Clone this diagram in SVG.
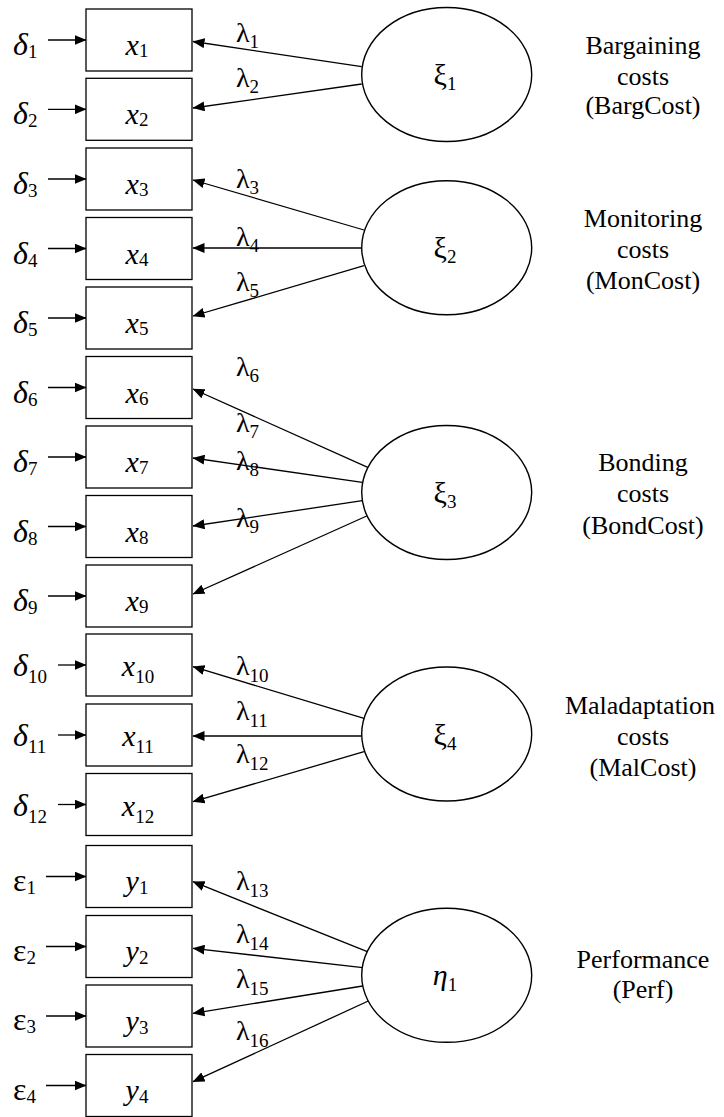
<svg xmlns="http://www.w3.org/2000/svg" width="724" height="1117" viewBox="0 0 724 1117">
<defs>
<marker id="ah" markerUnits="userSpaceOnUse" markerWidth="12" markerHeight="10" refX="11.5" refY="5" orient="auto">
<path d="M0,0 L12,5 L0,10 Z" fill="#000"/>
</marker>
<style>
.box{fill:#fff;stroke:#000;stroke-width:1.3}
.ell{fill:#fff;stroke:#000;stroke-width:1.4}
.ln{stroke:#000;stroke-width:1.3;fill:none;marker-end:url(#ah)}
.v{font-family:"Liberation Serif","Times New Roman",serif;font-style:italic;font-size:30px;fill:#000}
.d{font-family:"Liberation Serif","Times New Roman",serif;font-style:italic;font-size:32px;fill:#000}
.e{font-family:"Liberation Serif","Times New Roman",serif;font-size:32px;fill:#000}
.l{font-family:"Liberation Serif","Times New Roman",serif;font-size:28px;fill:#000}
.k{font-family:"Liberation Serif","Times New Roman",serif;font-size:30px;fill:#000;text-anchor:middle}
.s{font-style:normal;font-size:19px}
.lab{font-family:"Liberation Serif","Times New Roman",serif;font-size:26px;fill:#000;text-anchor:middle}
</style>
</defs>
<rect width="724" height="1117" fill="#fff"/>

<g id="connectors">
<line class="ln" x1="48" y1="40" x2="86" y2="40"/>
<line class="ln" x1="48" y1="109.3" x2="86" y2="109.3"/>
<line class="ln" x1="48" y1="179" x2="86" y2="179"/>
<line class="ln" x1="48" y1="248.5" x2="86" y2="248.5"/>
<line class="ln" x1="48" y1="318" x2="86" y2="318"/>
<line class="ln" x1="48" y1="387.5" x2="86" y2="387.5"/>
<line class="ln" x1="48" y1="457" x2="86" y2="457"/>
<line class="ln" x1="48" y1="526.5" x2="86" y2="526.5"/>
<line class="ln" x1="48" y1="596" x2="86" y2="596"/>
<line class="ln" x1="58" y1="665" x2="86" y2="665"/>
<line class="ln" x1="58" y1="735" x2="86" y2="735"/>
<line class="ln" x1="58" y1="804.5" x2="86" y2="804.5"/>
<line class="ln" x1="46" y1="876.5" x2="86" y2="876.5"/>
<line class="ln" x1="46" y1="946.5" x2="86" y2="946.5"/>
<line class="ln" x1="46" y1="1016" x2="86" y2="1016"/>
<line class="ln" x1="46" y1="1085.5" x2="86" y2="1085.5"/>

<line class="ln" x1="361.7" y1="66.7" x2="193" y2="41.5"/>
<line class="ln" x1="361.7" y1="84" x2="193" y2="108"/>
<line class="ln" x1="364" y1="230" x2="193" y2="180"/>
<line class="ln" x1="361.7" y1="248" x2="193" y2="248"/>
<line class="ln" x1="364" y1="265.7" x2="193" y2="316"/>
<line class="ln" x1="368.3" y1="467.7" x2="193" y2="389"/>
<line class="ln" x1="362.3" y1="482.3" x2="193" y2="458"/>
<line class="ln" x1="362.3" y1="500.7" x2="193" y2="526"/>
<line class="ln" x1="366.7" y1="516" x2="193" y2="594"/>
<line class="ln" x1="364" y1="718.3" x2="193" y2="666.7"/>
<line class="ln" x1="361.7" y1="736" x2="193" y2="736"/>
<line class="ln" x1="364" y1="751.7" x2="193" y2="801.7"/>
<line class="ln" x1="367.3" y1="951.7" x2="193" y2="881.7"/>
<line class="ln" x1="362.7" y1="967.7" x2="193" y2="948.3"/>
<line class="ln" x1="362.7" y1="986" x2="193" y2="1013.3"/>
<line class="ln" x1="368.3" y1="1001" x2="193" y2="1081.7"/>
</g>

<g id="error-labels">
<text class="d" x="13" y="55">δ<tspan class="s" dy="3">1</tspan></text>
<text class="d" x="13" y="124.3">δ<tspan class="s" dy="3">2</tspan></text>
<text class="d" x="13" y="194">δ<tspan class="s" dy="3">3</tspan></text>
<text class="d" x="13" y="263.5">δ<tspan class="s" dy="3">4</tspan></text>
<text class="d" x="13" y="333">δ<tspan class="s" dy="3">5</tspan></text>
<text class="d" x="13" y="402.5">δ<tspan class="s" dy="3">6</tspan></text>
<text class="d" x="13" y="472">δ<tspan class="s" dy="3">7</tspan></text>
<text class="d" x="13" y="541.5">δ<tspan class="s" dy="3">8</tspan></text>
<text class="d" x="13" y="611">δ<tspan class="s" dy="3">9</tspan></text>
<text class="d" x="13" y="676">δ<tspan class="s" dy="7">10</tspan></text>
<text class="d" x="13" y="746">δ<tspan class="s" dy="7">11</tspan></text>
<text class="d" x="13" y="815.5">δ<tspan class="s" dy="7">12</tspan></text>
<text class="e" x="13" y="890.5">ε<tspan class="s" dy="3">1</tspan></text>
<text class="e" x="13" y="960.5">ε<tspan class="s" dy="3">2</tspan></text>
<text class="e" x="13" y="1030">ε<tspan class="s" dy="3">3</tspan></text>
<text class="e" x="13" y="1099.5">ε<tspan class="s" dy="3">4</tspan></text>
</g>

<g id="x1"><rect class="box" x="86" y="9" width="106" height="62"/><text class="v" x="137" y="55" text-anchor="middle">x<tspan class="s" dy="2">1</tspan></text></g>
<g id="x2"><rect class="box" x="86" y="78.3" width="106" height="62"/><text class="v" x="137" y="124.3" text-anchor="middle">x<tspan class="s" dy="2">2</tspan></text></g>
<g id="x3"><rect class="box" x="86" y="148" width="106" height="62"/><text class="v" x="137" y="194" text-anchor="middle">x<tspan class="s" dy="2">3</tspan></text></g>
<g id="x4"><rect class="box" x="86" y="217.5" width="106" height="62"/><text class="v" x="137" y="263.5" text-anchor="middle">x<tspan class="s" dy="2">4</tspan></text></g>
<g id="x5"><rect class="box" x="86" y="287" width="106" height="62"/><text class="v" x="137" y="333" text-anchor="middle">x<tspan class="s" dy="2">5</tspan></text></g>
<g id="x6"><rect class="box" x="86" y="356.5" width="106" height="62"/><text class="v" x="137" y="402.5" text-anchor="middle">x<tspan class="s" dy="2">6</tspan></text></g>
<g id="x7"><rect class="box" x="86" y="426" width="106" height="62"/><text class="v" x="137" y="472" text-anchor="middle">x<tspan class="s" dy="2">7</tspan></text></g>
<g id="x8"><rect class="box" x="86" y="495.5" width="106" height="62"/><text class="v" x="137" y="541.5" text-anchor="middle">x<tspan class="s" dy="2">8</tspan></text></g>
<g id="x9"><rect class="box" x="86" y="565" width="106" height="62"/><text class="v" x="137" y="611" text-anchor="middle">x<tspan class="s" dy="2">9</tspan></text></g>
<g id="x10"><rect class="box" x="86" y="634" width="106" height="62"/><text class="v" x="138" y="676" text-anchor="middle">x<tspan class="s" dy="7">10</tspan></text></g>
<g id="x11"><rect class="box" x="86" y="704" width="106" height="62"/><text class="v" x="138" y="746" text-anchor="middle">x<tspan class="s" dy="7">11</tspan></text></g>
<g id="x12"><rect class="box" x="86" y="773.5" width="106" height="62"/><text class="v" x="138" y="815.5" text-anchor="middle">x<tspan class="s" dy="7">12</tspan></text></g>
<g id="y1"><rect class="box" x="86" y="845.5" width="106" height="62"/><text class="v" x="137" y="891" text-anchor="middle">y<tspan class="s" dy="3">1</tspan></text></g>
<g id="y2"><rect class="box" x="86" y="915.5" width="106" height="62"/><text class="v" x="137" y="961" text-anchor="middle">y<tspan class="s" dy="3">2</tspan></text></g>
<g id="y3"><rect class="box" x="86" y="985" width="106" height="62"/><text class="v" x="137" y="1030.5" text-anchor="middle">y<tspan class="s" dy="3">3</tspan></text></g>
<g id="y4"><rect class="box" x="86" y="1054.5" width="106" height="62"/><text class="v" x="137" y="1100" text-anchor="middle">y<tspan class="s" dy="3">4</tspan></text></g>

<g id="loading-labels">
<text class="l" x="236" y="42">λ<tspan class="s" dy="6">1</tspan></text>
<text class="l" x="236" y="87">λ<tspan class="s" dy="6">2</tspan></text>
<text class="l" x="236" y="188">λ<tspan class="s" dy="6">3</tspan></text>
<text class="l" x="236" y="246">λ<tspan class="s" dy="6">4</tspan></text>
<text class="l" x="236" y="291">λ<tspan class="s" dy="6">5</tspan></text>
<text class="l" x="236" y="376">λ<tspan class="s" dy="6">6</tspan></text>
<text class="l" x="236" y="432">λ<tspan class="s" dy="6">7</tspan></text>
<text class="l" x="236" y="470">λ<tspan class="s" dy="6">8</tspan></text>
<text class="l" x="236" y="527">λ<tspan class="s" dy="6">9</tspan></text>
<text class="l" x="236" y="675">λ<tspan class="s" dy="7">10</tspan></text>
<text class="l" x="236" y="720">λ<tspan class="s" dy="7">11</tspan></text>
<text class="l" x="236" y="763">λ<tspan class="s" dy="7">12</tspan></text>
<text class="l" x="236" y="890">λ<tspan class="s" dy="7">13</tspan></text>
<text class="l" x="236" y="943">λ<tspan class="s" dy="7">14</tspan></text>
<text class="l" x="236" y="988">λ<tspan class="s" dy="7">15</tspan></text>
<text class="l" x="236" y="1040">λ<tspan class="s" dy="7">16</tspan></text>
</g>

<g id="xi1"><ellipse class="ell" cx="446.7" cy="74.5" rx="85" ry="67"/><text class="k" x="445" y="85">ξ<tspan class="s" dy="5">1</tspan></text></g>
<g id="xi2"><ellipse class="ell" cx="446.7" cy="247.7" rx="85" ry="67"/><text class="k" x="445" y="258">ξ<tspan class="s" dy="5">2</tspan></text></g>
<g id="xi3"><ellipse class="ell" cx="446.7" cy="492.5" rx="85" ry="67"/><text class="k" x="445" y="503">ξ<tspan class="s" dy="5">3</tspan></text></g>
<g id="xi4"><ellipse class="ell" cx="446.7" cy="734" rx="85" ry="67"/><text class="k" x="445" y="744.5">ξ<tspan class="s" dy="5">4</tspan></text></g>
<g id="eta1"><ellipse class="ell" cx="446.7" cy="975.3" rx="85" ry="67"/><text class="k" x="445" y="985" font-style="italic">η<tspan class="s" dy="6">1</tspan></text></g>

<g id="label-bargcost"><text class="lab" x="643" y="54">Bargaining</text><text class="lab" x="643" y="84.5">costs</text><text class="lab" x="643" y="114">(BargCost)</text></g>
<g id="label-moncost"><text class="lab" x="643" y="226.5">Monitoring</text><text class="lab" x="643" y="257.7">costs</text><text class="lab" x="643" y="289">(MonCost)</text></g>
<g id="label-bondcost"><text class="lab" x="643" y="471">Bonding</text><text class="lab" x="643" y="502">costs</text><text class="lab" x="643" y="533.5">(BondCost)</text></g>
<g id="label-malcost"><text class="lab" x="640" y="713.5">Maladaptation</text><text class="lab" x="643" y="744.5">costs</text><text class="lab" x="643" y="776">(MalCost)</text></g>
<g id="label-perf"><text class="lab" x="643" y="968.3">Performance</text><text class="lab" x="643" y="998.3">(Perf)</text></g>
</svg>
